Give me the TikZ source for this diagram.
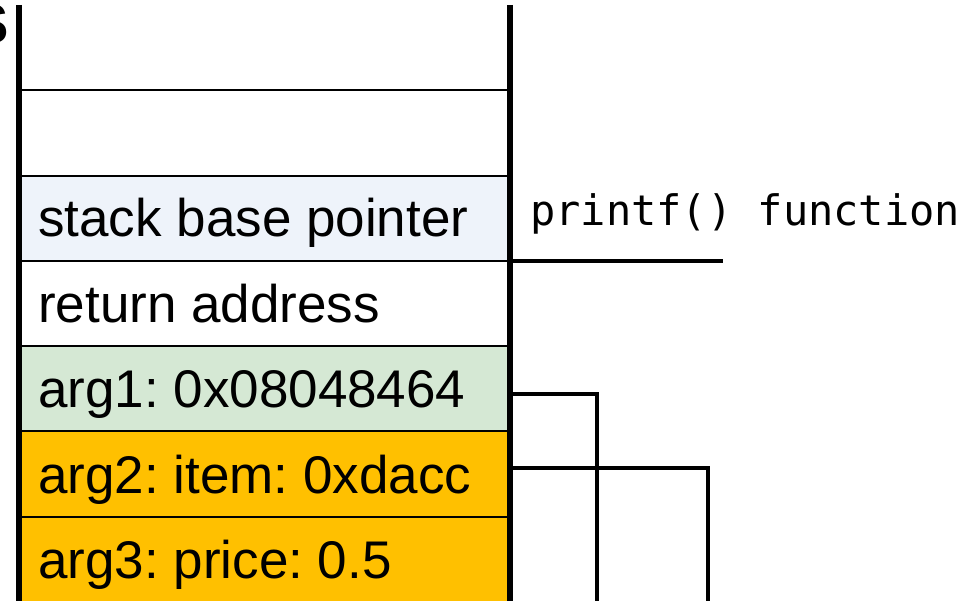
\documentclass[tikz,border=0pt]{standalone}
\usepackage{fontspec}
\setmainfont{Liberation Sans}
\setmonofont{DejaVu Sans Mono}
\definecolor{cellblue}{RGB}{238,243,250}
\definecolor{cellgreen}{RGB}{213,232,212}
\definecolor{cellorange}{RGB}{255,192,0}
\frenchspacing
\begin{document}
\begin{tikzpicture}[x=1pt,y=-1pt,
  cell/.style={rectangle, minimum width=485pt, minimum height=#1, inner sep=0pt, outer sep=0pt, anchor=north west},
  lbl/.style={anchor=base west, font=\fontsize{53}{60}\selectfont, inner sep=0pt},
  divider/.style={line width=2pt},
  wall/.style={line width=6pt},
  conn/.style={line width=3.5pt},
  mono/.style={anchor=base west, font=\ttfamily\fontsize{42}{50}\selectfont, inner sep=0pt}]
\useasboundingbox (0,0) rectangle (973,601);
% cells
\node[cell=85pt, fill=white] (c0) at (22,5) {};
\node[cell=86pt, fill=white] (c1) at (22,90) {};
\node[cell=85pt, fill=cellblue] (c2) at (22,176) {};
\node[cell=85pt, fill=white] (c3) at (22,261) {};
\node[cell=85pt, fill=cellgreen] (c4) at (22,346) {};
\node[cell=86pt, fill=cellorange] (c5) at (22,431) {};
\node[cell=95pt, fill=cellorange] (c6) at (22,517) {};
% dividers
\draw[divider] (c1.north west) -- ([xshift=4pt]c1.north east);
\draw[divider] (c2.north west) -- ([xshift=4pt]c2.north east);
\draw[divider] (c3.north west) -- ([xshift=4pt]c3.north east);
\draw[divider] (c4.north west) -- ([xshift=4pt]c4.north east);
\draw[divider] (c5.north west) -- ([xshift=4pt]c5.north east);
\draw[divider] (c6.north west) -- ([xshift=4pt]c6.north east);
% labels
\node[lbl] (t2) at (38,237) {stack base pointer};
\node[lbl] (t3) at (38,322) {return address};
\node[lbl] (t4) at (38,407) {arg1: 0x08048464};
\node[lbl] (t5) at (38,493) {arg2: item: 0xdacc};
\node[lbl] (t6) at (38,578) {arg3: price: 0.5};
% walls
\coordinate (lwtop) at (19,5);
\coordinate (lwbot) at (19,612);
\coordinate (rwtop) at (510,5);
\coordinate (rwbot) at (510,612);
\draw[wall] (lwtop) -- (lwbot);
\draw[wall] (rwtop) -- (rwbot);
% printf frame
\node[mono] (pf) at (530,226) {printf() function};
\coordinate (sepend) at (723,261);
\draw[line width=3.5pt] (c3.north west -| rwtop) -- (sepend);
% connectors
\coordinate (k1) at (597,394);
\coordinate (k1b) at (597,612);
\coordinate (k2) at (708,468);
\coordinate (k2b) at (708,612);
\draw[conn] (c4.east |- k1) -- (k1) -- (k1b);
\draw[conn] (c5.east |- k2) -- (k2) -- (k2b);
% partial glyph at the left edge
\node[anchor=base east, font=\bfseries\fontsize{56}{60}\selectfont, inner sep=0pt] (cut) at (9,44) {S};
\end{tikzpicture}
\end{document}
